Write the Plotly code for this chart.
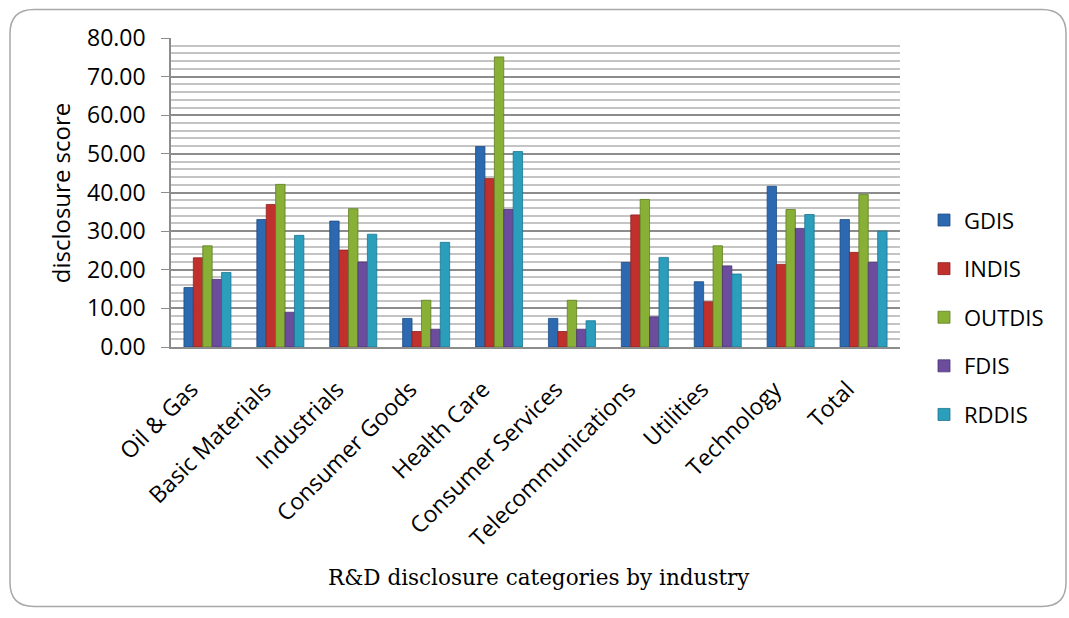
import plotly.graph_objects as go

categories = ["Oil & Gas", "Basic Materials", "Industrials", "Consumer Goods", "Health Care",
              "Consumer Services", "Telecommunications", "Utilities", "Technology", "Total"]
GDIS = [15.4, 33.0, 32.6, 7.4, 51.9, 7.4, 21.9, 16.9, 41.6, 33.0]
INDIS = [23.1, 36.9, 25.1, 4.0, 43.6, 4.0, 34.2, 11.7, 21.4, 24.5]
OUTDIS = [26.2, 42.1, 35.8, 12.1, 75.1, 12.1, 38.2, 26.2, 35.6, 39.5]
FDIS = [17.5, 9.0, 22.0, 4.6, 35.6, 4.6, 7.8, 21.0, 30.7, 21.9]
RDDIS = [19.3, 28.9, 29.2, 27.1, 50.6, 6.8, 23.2, 18.9, 34.3, 30.0]
series_names = ["GDIS", "INDIS", "OUTDIS", "FDIS", "RDDIS"]
series_values = [GDIS, INDIS, OUTDIS, FDIS, RDDIS]
y_tick_values = [0, 10, 20, 30, 40, 50, 60, 70, 80]
y_tick_labels = ["0.00", "10.00", "20.00", "30.00", "40.00", "50.00", "60.00", "70.00", "80.00"]

colors = ["#2C69B0", "#C0312E", "#88B036", "#6C4C9C", "#2B9EBC"]
edge = ["#1E4C85", "#8E2220", "#5F7E22", "#4C3472", "#1D7590"]

W, H = 1069, 618
L, R, T, B = 171, 900, 37.5, 347
FONT = "Open Sans, Lato, sans-serif"

def px(x):
    return (x - L) / (R - L)

def py(y):
    return (B - y) / (B - T)

fig = go.Figure()
for i, (name, vals) in enumerate(zip(series_names, series_values)):
    fig.add_trace(go.Bar(
        x=categories, y=vals, name=name, legendgroup=name,
        marker=dict(color=colors[i], line=dict(color=edge[i], width=0.8)),
    ))

# rounded outer border
x0, y0, x1, y1, r = 10, 9, 1066, 607, 24
path = (f"M {px(x0+r)},{py(y0)} L {px(x1-r)},{py(y0)} Q {px(x1)},{py(y0)} {px(x1)},{py(y0+r)} "
        f"L {px(x1)},{py(y1-r)} Q {px(x1)},{py(y1)} {px(x1-r)},{py(y1)} "
        f"L {px(x0+r)},{py(y1)} Q {px(x0)},{py(y1)} {px(x0)},{py(y1-r)} "
        f"L {px(x0)},{py(y0+r)} Q {px(x0)},{py(y0)} {px(x0+r)},{py(y0)} Z")
fig.add_shape(type="path", path=path, xref="paper", yref="paper",
              line=dict(color="#A8A8A8", width=1.5), layer="below")

fig.add_annotation(text="disclosure score", x=px(60), y=py(193), xref="paper", yref="paper",
                   textangle=-90, showarrow=False, xanchor="center", yanchor="middle",
                   font=dict(family=FONT, size=24, color="#000000"))
fig.add_annotation(text="R&D disclosure categories by industry", x=px(539), y=py(578),
                   xref="paper", yref="paper", showarrow=False, xanchor="center", yanchor="middle",
                   font=dict(family="DejaVu Serif, serif", size=21.5, color="#000000"))

fig.update_layout(
    width=W, height=H,
    margin=dict(l=L, r=W - R, t=T, b=H - B, autoexpand=False),
    paper_bgcolor="white", plot_bgcolor="white",
    barmode="group", bargap=0.355, bargroupgap=0,
    font=dict(family=FONT, color="#000000"),
    legend=dict(x=px(924), y=py(199), xanchor="left", yanchor="top",
                font=dict(size=22), tracegroupgap=17, traceorder="grouped"),
    showlegend=True,
)
fig.update_yaxes(range=[0, 80], tickvals=y_tick_values, ticktext=y_tick_labels,
                 tickfont=dict(size=23), showgrid=True, gridcolor="#8C8C8C", gridwidth=1.5,
                 minor=dict(dtick=2, showgrid=True, gridcolor="#C4C4C4", gridwidth=1.5),
                 showline=True, linecolor="#8C8C8C", linewidth=1.5,
                 ticks="outside", ticklen=8, tickcolor="#8C8C8C", zeroline=False,
                 ticklabelstandoff=11)
fig.update_xaxes(tickangle=-45, tickfont=dict(size=23), showline=True, linecolor="#8C8C8C",
                 linewidth=1.5, showgrid=False, ticks="", mirror=False,
                 ticklabelstandoff=18, ticklabelshift=-16)

fig.write_html("out.html")
